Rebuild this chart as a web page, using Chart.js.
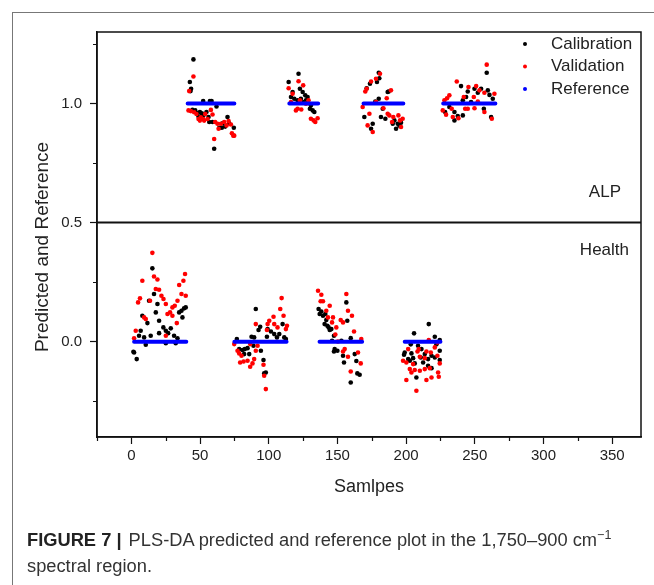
<!DOCTYPE html>
<html lang="en">
  <head>
    <meta charset="UTF-8" />
    <title>PLS-DA predicted and reference</title>
    <script src="https://cdn.jsdelivr.net/npm/chart.js@4.4.0/dist/chart.umd.min.js"></script>
    <style>
      body { margin: 0; background: #fff; }
      .wrap { position: relative; width: 654px; height: 585px; overflow: hidden; }
      .frame { position: absolute; left: 12px; top: 12px; width: 700px; height: 700px; border-left: 1px solid #777; border-top: 1px solid #777; }
      #chart { position: absolute; left: 0; top: 0; }
      .caption { position: absolute; left: 27px; top: 527px; width: 624px; font-family: "Liberation Sans", Arial, sans-serif; font-size: 18.3px; line-height: 26px; color: #333; }
      .caption b { color: #222; margin-right: 2px; }
      .caption sup { font-size: 12.5px; line-height: 0; }
    </style>
  </head>
  <body>
    <div class="wrap">
      <div class="frame"></div>
      <canvas id="chart" width="654" height="585"></canvas>
      <div class="caption"><b>FIGURE 7 |</b> PLS-DA predicted and reference plot in the 1,750–900 cm<sup>−1</sup><br />spectral region.</div>
    </div>
    <script>
      // sample index / predicted value
      const calibrationPts = [
        // ALP
        [45.2, 1.185], [42.6, 1.09], [43.5, 1.062], [43.1, 1.052], [52.3, 1.01], [57.2, 1.01], [58.4, 1.01], [62.0, 0.987], [44.5, 0.973], [46.5, 0.971],
        [48.2, 0.959], [49.9, 0.964], [51.3, 0.959], [53.0, 0.954], [54.7, 0.964], [51.8, 0.945], [56.2, 0.943], [56.7, 0.922], [59.1, 0.922], [66.4, 0.917],
        [68.3, 0.903], [70.0, 0.943], [71.2, 0.917], [74.6, 0.898], [64.0, 0.898], [65.9, 0.898], [60.3, 0.81], [48.9, 0.945],
        [121.7, 1.125], [114.5, 1.09], [117.4, 1.048], [116.2, 1.027], [118.6, 1.02], [122.7, 1.062], [124.7, 1.048], [126.6, 1.034], [128.3, 1.027], [127.1, 1.013],
        [123.4, 1.02], [121.0, 1.013], [130.7, 0.992], [132.0, 0.971], [133.2, 0.964], [130.0, 0.978], [125.4, 1.006],
        [180.1, 1.129], [180.5, 1.106], [178.8, 1.09], [173.7, 1.083], [171.3, 1.064], [186.6, 1.048], [187.3, 1.05], [183.0, 0.978], [169.6, 0.943], [175.7, 0.915],
        [174.5, 0.894], [181.7, 0.943], [184.9, 0.936], [190.3, 0.915], [192.7, 0.894], [193.9, 0.915], [191.5, 0.929], [195.1, 0.907], [196.3, 0.919], [180.1, 1.02], [177.6, 1.008],
        [258.7, 1.129], [240.0, 1.073], [244.9, 1.05], [249.8, 1.062], [254.6, 1.062], [259.5, 1.055], [260.7, 1.036], [252.2, 1.045], [243.7, 1.027], [241.3, 1.013],
        [247.3, 1.006], [231.5, 0.985], [228.4, 0.964], [235.2, 0.964], [241.3, 0.95], [235.2, 0.929], [256.6, 0.978], [261.9, 0.943], [263.1, 1.02], [237.6, 0.947],
        // Health
        [15.3, 0.308], [16.5, 0.2], [12.9, 0.172], [19.0, 0.158], [8.0, 0.109], [11.7, 0.078], [17.8, 0.123], [20.2, 0.088], [23.3, 0.06], [25.1, 0.046],
        [26.8, 0.036], [28.7, 0.056], [31.1, 0.025], [33.6, 0.014], [34.8, 0.123], [36.5, 0.13], [38.4, 0.14], [39.6, 0.144], [37.2, 0.102], [6.8, 0.046],
        [5.6, 0.025], [9.3, 0.018], [14.1, 0.025], [20.2, 0.036], [25.1, -0.006], [10.5, -0.013], [2.0, -0.045], [1.5, -0.042], [3.9, -0.073], [32.3, -0.006],
        [90.6, 0.137], [92.6, 0.049], [93.8, 0.063], [87.5, 0.021], [89.4, 0.018], [76.8, 0.011], [99.2, 0.053], [101.6, 0.043], [104.0, 0.032], [106.0, 0.018],
        [107.7, 0.032], [110.1, 0.074], [111.3, 0.018], [112.5, 0.011], [78.5, -0.031], [80.9, -0.035], [82.6, -0.031], [84.6, -0.027], [82.1, -0.052], [85.8, -0.052],
        [88.9, -0.017], [94.3, -0.038], [96.2, -0.077], [96.7, -0.133], [97.9, -0.129], [98.7, 0.021],
        [136.3, 0.137], [138.3, 0.127], [137.1, 0.116], [139.5, 0.109], [141.2, 0.116], [141.9, 0.091], [140.7, 0.074], [142.7, 0.067], [143.6, 0.06], [144.4, 0.049],
        [145.6, 0.053], [147.5, 0.025], [156.5, 0.165], [157.2, 0.088], [159.7, 0.015], [152.9, 0.004], [148.0, -0.031], [150.0, -0.038], [147.5, -0.041], [154.1, -0.059],
        [154.8, -0.087], [162.6, -0.052], [163.8, -0.081], [164.5, -0.133], [166.2, -0.139], [159.7, -0.171], [146.1, 0.004],
        [216.5, 0.074], [205.8, 0.035], [220.9, 0.021], [203.4, -0.011], [208.7, -0.017], [222.1, -0.011], [224.5, 0.007], [211.2, -0.031], [199.0, -0.045], [203.9, -0.049],
        [198.5, -0.055], [201.5, -0.073], [202.7, -0.08], [205.1, -0.069], [210.7, -0.066], [213.6, -0.052], [216.0, -0.073], [218.5, -0.059], [220.9, -0.066], [224.5, -0.077],
        [212.4, -0.087], [216.0, -0.101], [218.5, -0.111], [207.5, -0.15], [206.3, -0.091], [224.5, -0.038],
      ];
      const validationPts = [
        // ALP
        [45.2, 1.113], [42.1, 1.052], [41.6, 0.971], [43.3, 0.968], [45.7, 0.963], [47.4, 0.956], [48.9, 0.935], [50.6, 0.942], [52.3, 0.935], [53.8, 0.956],
        [55.5, 0.935], [57.9, 0.973], [59.1, 0.954], [61.0, 0.922], [62.7, 0.915], [63.5, 0.894], [65.2, 0.915], [67.6, 0.922], [69.3, 0.908], [70.8, 0.926],
        [72.5, 0.912], [73.2, 0.875], [74.2, 0.865], [74.9, 0.865], [60.3, 0.851], [49.9, 0.928], [53.0, 0.928],
        [114.5, 1.064], [121.7, 1.093], [116.2, 1.006], [125.1, 1.076], [121.0, 0.978], [123.7, 0.975], [119.8, 0.971], [129.0, 1.013], [130.7, 0.936], [132.7, 0.929],
        [133.9, 0.922], [135.6, 0.938], [127.1, 0.999], [117.4, 1.041], [122.7, 1.013],
        [181.0, 1.125], [178.1, 1.104], [174.5, 1.092], [171.3, 1.062], [170.3, 1.05], [189.0, 1.055], [185.9, 1.022], [168.4, 0.985], [173.3, 0.957], [172.0, 0.908],
        [175.7, 0.88], [183.5, 0.98], [186.6, 0.957], [187.8, 0.95], [190.7, 0.943], [194.4, 0.95], [195.6, 0.929], [197.5, 0.936], [189.8, 0.922], [196.3, 0.901], [178.1, 1.006],
        [258.7, 1.163], [236.9, 1.092], [231.5, 1.034], [229.8, 1.022], [227.9, 1.013], [245.4, 1.069], [251.0, 1.073], [253.4, 1.055], [257.0, 1.045], [264.3, 1.041],
        [242.0, 1.027], [249.3, 1.027], [252.2, 1.008], [244.9, 0.978], [249.8, 0.98], [226.7, 0.971], [229.1, 0.953], [234.0, 0.943], [238.1, 0.938], [243.0, 0.978],
        [257.0, 0.964], [262.4, 0.936], [233.2, 0.978],
        // Health
        [15.3, 0.373], [16.5, 0.274], [8.0, 0.256], [19.0, 0.261], [6.3, 0.182], [4.9, 0.165], [13.6, 0.172], [17.8, 0.221], [20.2, 0.218], [21.9, 0.193],
        [23.4, 0.179], [25.1, 0.158], [28.2, 0.123], [29.9, 0.144], [31.6, 0.151], [33.6, 0.172], [34.8, 0.238], [37.9, 0.256], [39.1, 0.284], [36.5, 0.2],
        [39.6, 0.193], [26.3, 0.116], [9.3, 0.102], [10.5, 0.095], [3.2, 0.046], [2.0, 0.014], [25.1, 0.025], [33.1, 0.078], [29.9, 0.109],
        [109.4, 0.183], [108.4, 0.137], [110.8, 0.109], [103.5, 0.105], [100.4, 0.088], [99.2, 0.074], [104.0, 0.074], [106.4, 0.06], [112.5, 0.053], [113.3, 0.067],
        [90.6, 0.074], [98.7, 0.049], [74.9, -0.01], [77.3, -0.038], [78.5, -0.049], [80.2, -0.059], [79.2, -0.087], [81.7, -0.083], [84.6, -0.08], [86.5, -0.105],
        [88.2, -0.091], [89.4, -0.073], [91.9, -0.017], [90.6, -0.038], [96.2, -0.097], [97.9, -0.199], [96.7, -0.143], [86.5, -0.01],
        [135.9, 0.214], [138.3, 0.197], [137.8, 0.17], [139.5, 0.17], [144.4, 0.151], [141.9, 0.13], [143.1, 0.102], [146.8, 0.102], [146.1, 0.081], [149.2, 0.06],
        [148.5, 0.03], [152.4, 0.091], [154.1, 0.081], [156.5, 0.2], [157.7, 0.13], [160.6, 0.109], [162.1, 0.043], [167.4, 0.011], [155.3, -0.031], [154.1, -0.041],
        [157.7, -0.063], [165.0, -0.045], [167.0, -0.091], [159.7, -0.125], [150.4, 0.001],
        [216.5, 0.007], [222.8, -0.003], [209.2, -0.031], [201.5, -0.031], [197.8, -0.08], [200.2, -0.087], [205.1, -0.094], [208.3, -0.041], [210.0, -0.063], [214.8, -0.041],
        [218.0, -0.045], [220.9, -0.024], [222.8, -0.059], [224.5, -0.091], [202.7, -0.115], [206.3, -0.119], [210.0, -0.122], [213.6, -0.115], [217.2, -0.111], [223.3, -0.129],
        [200.2, -0.161], [214.8, -0.161], [218.5, -0.15], [223.8, -0.147], [207.5, -0.206], [203.9, -0.129], [213.6, -0.069],
      ];
      // reference class of each sample block
      const refStart = [2, 41, 75, 115, 137, 169, 199, 227];
      const refEnd = [40, 75, 113, 136, 168, 198, 225, 265];
      const refValue = [0, 1, 0, 1, 0, 1, 0, 1];

      const seriesNames = ["Calibration", "Validation", "Reference"];
      const seriesColors = ["#000000", "#ff0000", "#0000ff"];
      const groupNames = ["ALP", "Health"];
      const yTitle = "Predicted and Reference";
      const dividerValue = 0.5;

      const toXY = (p) => ({ x: p[0], y: p[1] });
      const refData = [];
      refStart.forEach(function (s, i) {
        refData.push({ x: s, y: refValue[i] });
        refData.push({ x: refEnd[i], y: refValue[i] });
        refData.push({ x: refEnd[i] + 0.5, y: null }); // break the line
      });

      const isMajorX = (v) => v % 50 === 0;
      const isMajorY = (v) => Math.abs(v * 2 - Math.round(v * 2)) < 1e-6;
      const FONT = "'Liberation Sans', Arial, sans-serif";

      // box, divider line, minor ticks, region names, y title and legend
      const decor = {
        id: "decor",
        afterDraw(chart) {
          const { ctx, chartArea: a } = chart;
          const x = chart.scales.x;
          const y = chart.scales.y;
          ctx.save();
          ctx.strokeStyle = "#111";
          ctx.lineWidth = 2;
          const yd = y.getPixelForValue(dividerValue);
          ctx.beginPath();
          ctx.moveTo(a.left, yd);
          ctx.lineTo(a.right, yd);
          ctx.stroke();
          ctx.lineWidth = 1.5;
          ctx.strokeRect(a.left, a.top, a.right - a.left, a.bottom - a.top);

          ctx.lineWidth = 1.2;
          ctx.beginPath();
          x.ticks.forEach(function (t) {
            if (isMajorX(t.value)) return;
            const px = Math.round(x.getPixelForValue(t.value)) + 0.5;
            ctx.moveTo(px, a.bottom);
            ctx.lineTo(px, a.bottom + 4);
          });
          y.ticks.forEach(function (t) {
            if (isMajorY(t.value)) return;
            const py = Math.round(y.getPixelForValue(t.value)) + 0.5;
            ctx.moveTo(a.left, py);
            ctx.lineTo(a.left - 4, py);
          });
          ctx.stroke();

          ctx.fillStyle = "#222";
          ctx.font = "17px " + FONT;
          ctx.textAlign = "right";
          ctx.textBaseline = "middle";
          ctx.fillText(groupNames[0], a.right - 20, 192);
          ctx.fillText(groupNames[1], a.right - 12, 250);

          // legend
          ctx.textAlign = "left";
          seriesNames.forEach(function (name, i) {
            const ly = 44 + i * 22.5;
            ctx.fillStyle = seriesColors[i];
            ctx.beginPath();
            ctx.arc(525, ly, 2, 0, Math.PI * 2);
            ctx.fill();
            ctx.fillStyle = "#222";
            ctx.fillText(name, 551, ly);
          });

          // y axis title, sits a little below the plot centre in the figure
          ctx.translate(43, 247);
          ctx.rotate(-Math.PI / 2);
          ctx.textAlign = "center";
          ctx.font = "19px " + FONT;
          ctx.fillText(yTitle, 0, 0);
          ctx.restore();
        },
      };

      const ctx = document.querySelector("#chart").getContext("2d");
      const myChart = new Chart(ctx, {
        type: "scatter",
        data: {
          datasets: [
            {
              label: seriesNames[2],
              data: refData,
              showLine: true,
              spanGaps: false,
              borderColor: seriesColors[2],
              borderWidth: 4,
              borderCapStyle: "round",
              pointRadius: 0,
              order: 0,
            },
            {
              label: seriesNames[1],
              data: validationPts.map(toXY),
              backgroundColor: seriesColors[1],
              borderWidth: 0,
              pointRadius: 2.3,
              order: 1,
            },
            {
              label: seriesNames[0],
              data: calibrationPts.map(toXY),
              backgroundColor: seriesColors[0],
              borderWidth: 0,
              pointRadius: 2.3,
              order: 2,
            },
          ],
        },
        options: {
          responsive: false,
          animation: false,
          layout: { padding: { left: 0, top: 32, right: 13, bottom: 0 } },
          plugins: { legend: { display: false }, tooltip: { enabled: false } },
          scales: {
            x: {
              type: "linear",
              min: -25,
              max: 371,
              afterFit: function (scale) {
                scale.height = 148;
              },
              ticks: {
                stepSize: 25,
                includeBounds: false,
                autoSkip: false,
                maxRotation: 0,
                padding: 3,
                color: "#222",
                font: { family: FONT, size: 15 },
                callback: (v) => (isMajorX(v) ? v : ""),
              },
              grid: {
                drawOnChartArea: false,
                tickLength: 7,
                tickWidth: 1.2,
                tickColor: (c) => (c.tick && isMajorX(c.tick.value) ? "#111" : "rgba(0,0,0,0)"),
              },
              border: { color: "#111", width: 1.5 },
              title: {
                display: true,
                text: "Samlpes",
                color: "#222",
                font: { family: FONT, size: 18 },
                padding: { top: 0, bottom: 87 },
              },
            },
            y: {
              min: -0.4,
              max: 1.3,
              afterFit: function (scale) {
                scale.width = 97;
              },
              ticks: {
                stepSize: 0.25,
                includeBounds: false,
                autoSkip: false,
                padding: 8,
                color: "#222",
                font: { family: FONT, size: 15 },
                callback: (v) => (isMajorY(v) ? v.toFixed(1) : ""),
              },
              grid: {
                drawOnChartArea: false,
                tickLength: 7,
                tickWidth: 1.2,
                tickColor: (c) => (c.tick && isMajorY(c.tick.value) ? "#111" : "rgba(0,0,0,0)"),
              },
              border: { color: "#111", width: 1.5 },
            },
          },
        },
        plugins: [decor],
      });
    </script>
  </body>
</html>
